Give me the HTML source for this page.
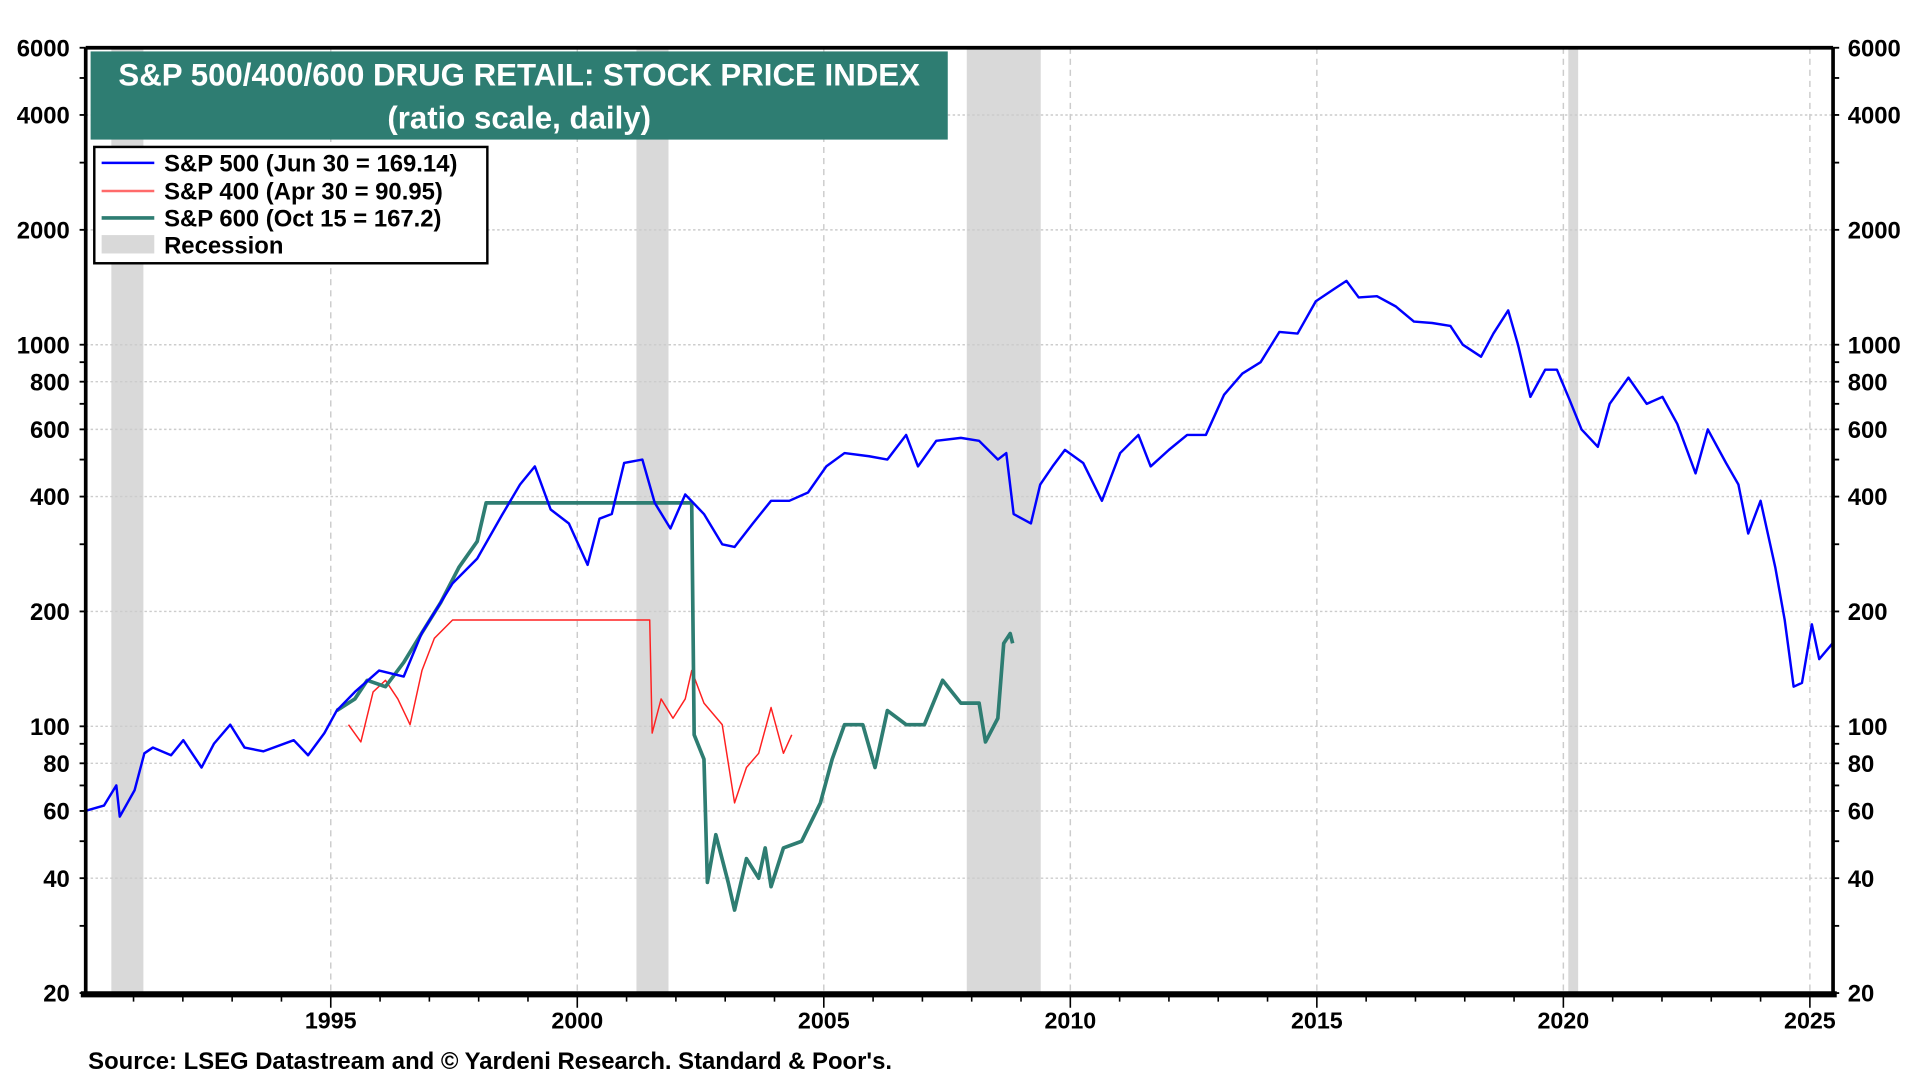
<!DOCTYPE html>
<html><head><meta charset="utf-8"><style>
html,body{margin:0;padding:0;background:#fff;}
svg{display:block;font-family:"Liberation Sans",sans-serif;}
</style></head><body>
<svg id="chart" width="1920" height="1080" viewBox="0 0 1568 882" preserveAspectRatio="none" xmlns="http://www.w3.org/2000/svg"></svg>
<script>
// ---- data ----
const yTicks = [20,40,60,80,100,200,400,600,800,1000,2000,4000,6000];
const xTickYears = [1995,2000,2005,2010,2015,2020,2025];
const recessionStarts = [1990.55,2001.2,2007.9,2020.1];
const recessionEnds = [1991.2,2001.85,2009.4,2020.3];
const sp500Years = [1990.02,1990.40,1990.65,1990.72,1991.02,1991.22,1991.39,1991.76,1992.01,1992.38,1992.63,1992.96,1993.25,1993.63,1994.25,1994.54,1994.87,1995.12,1995.49,1995.98,1996.48,1996.85,1997.47,1997.97,1998.47,1998.84,1999.14,1999.46,1999.83,2000.21,2000.45,2000.70,2000.95,2001.32,2001.57,2001.89,2002.19,2002.57,2002.94,2003.19,2003.56,2003.93,2004.30,2004.68,2005.05,2005.42,2005.92,2006.29,2006.67,2006.91,2007.28,2007.78,2008.15,2008.53,2008.70,2008.85,2009.20,2009.39,2009.64,2009.89,2010.26,2010.64,2011.01,2011.38,2011.63,2012.00,2012.37,2012.75,2013.12,2013.49,2013.86,2014.24,2014.61,2014.98,2015.35,2015.60,2015.85,2016.22,2016.60,2016.97,2017.34,2017.71,2017.96,2018.33,2018.58,2018.88,2019.08,2019.33,2019.63,2019.87,2020.12,2020.37,2020.70,2020.94,2021.32,2021.69,2022.01,2022.31,2022.68,2022.93,2023.30,2023.55,2023.75,2024.00,2024.30,2024.49,2024.67,2024.84,2025.04,2025.19,2025.46];
const sp500Values = [60,62,70,58,68,85,88,84,92,78,90,101,88,86,92,84,96,110,123,140,135,176,237,275,357,430,480,370,340,265,350,360,490,500,385,330,405,360,300,295,340,390,390,410,480,520,510,500,580,480,560,570,560,500,520,360,340,430,480,530,490,390,520,580,480,530,580,580,740,840,900,1080,1070,1300,1400,1470,1330,1340,1260,1150,1140,1120,1000,930,1070,1230,1000,730,860,860,720,600,540,700,820,700,730,620,460,600,490,430,320,390,260,190,127,130,185,150,165];
const sp400Years = [1995.36,1995.61,1995.86,1996.11,1996.36,1996.61,1996.85,1997.10,1997.47,2001.47,2001.52,2001.70,2001.94,2002.19,2002.32,2002.57,2002.94,2003.19,2003.43,2003.68,2003.93,2004.18,2004.35];
const sp400Values = [101,91,123,132,118,101,140,170,190,190,96,118,105,118,140,115,101,63,78,85,112,85,95];
const sp600Years = [1995.12,1995.49,1995.74,1996.11,1996.48,1996.85,1997.23,1997.60,1997.97,1998.15,2002.32,2002.37,2002.57,2002.64,2002.81,2003.06,2003.19,2003.43,2003.68,2003.81,2003.93,2004.18,2004.55,2004.93,2005.17,2005.42,2005.79,2006.04,2006.29,2006.67,2007.04,2007.41,2007.78,2008.15,2008.28,2008.53,2008.65,2008.78,2008.83];
const sp600Values = [110,118,132,127,147,176,211,261,305,385,385,95,82,39,52,39,33,45,40,48,38,48,50,63,82,101,101,78,110,101,101,132,115,115,91,105,165,175,165];

// ---- layout ----
const L=70,R=1497,T=39,B=811;
const X0=1990.03,X1=2025.47,YMIN=20,YMAX=6000;
const NS="http://www.w3.org/2000/svg";
const svg=document.getElementById('chart');
function xs(y){return L+(y-X0)/(X1-X0)*(R-L);}
function ys(v){return B-(Math.log10(v/YMIN))/Math.log10(YMAX/YMIN)*(B-T);}
function mk(tag,at,parent){const e=document.createElementNS(NS,tag);for(const k in at)e.setAttribute(k,at[k]);(parent||svg).appendChild(e);return e;}

recessionStarts.forEach((s,i)=>{
  const r=mk('rect',{x:xs(s),y:T,width:xs(recessionEnds[i])-xs(s),height:B-T,fill:'#d9d9d9'});
  
  
});
[40,60,80,100,200,400,600,800,1000,2000,4000].forEach(v=>{
  const g=mk('line',{x1:L,x2:R,y1:ys(v),y2:ys(v),stroke:'#cccccc','stroke-width':1.2,'stroke-dasharray':'2,2'});
  
  
});
xTickYears.forEach(y=>{
  const g=mk('line',{x1:xs(y),x2:xs(y),y1:T,y2:B,stroke:'#cccccc','stroke-width':1.2,'stroke-dasharray':'5,4'});
  
  
});
function series(yrs,vals,color,w,name){
  const d=yrs.map((y,i)=>(i?'L':'M')+xs(y).toFixed(1)+','+ys(vals[i]).toFixed(1)).join(' ');
  const p=mk('path',{d:d,fill:'none',stroke:color,'stroke-width':w,'stroke-linejoin':'round'});
  
  
}
series(sp400Years,sp400Values,'#ff2020',1.2,'sp400-line');
series(sp600Years,sp600Values,'#2e7d72',3,'sp600-line');
series(sp500Years,sp500Values,'#0000ff',2,'sp500-line');

mk('line',{x1:L,x2:R,y1:T,y2:T,stroke:'#000','stroke-width':3});
mk('line',{x1:L,x2:L,y1:T,y2:B,stroke:'#000','stroke-width':3});
mk('line',{x1:R,x2:R,y1:T,y2:B,stroke:'#000','stroke-width':3});
mk('line',{x1:L-4,x2:R+3,y1:B+1,y2:B+1,stroke:'#000','stroke-width':5});

const minor=[30,50,70,90,300,500,700,900,3000,5000];
minor.concat(yTicks).forEach(v=>{
  mk('line',{x1:L-5,x2:L,y1:ys(v),y2:ys(v),stroke:'#000','stroke-width':1.5});
  mk('line',{x1:R,x2:R+5,y1:ys(v),y2:ys(v),stroke:'#000','stroke-width':1.5});
});
yTicks.forEach(v=>{
  const a=mk('text',{x:L-13,y:ys(v)+7,'text-anchor':'end','font-size':19.5,'font-weight':'bold'});
  a.textContent=v;
  
  
  const b=mk('text',{x:R+12,y:ys(v)+7,'text-anchor':'start','font-size':19.5,'font-weight':'bold'});
  b.textContent=v;
  
  
});
for(let y=1991;y<=2025;y++){
  const big=xTickYears.includes(y);
  mk('line',{x1:xs(y),x2:xs(y),y1:B+3,y2:B+(big?12:7),stroke:'#000','stroke-width':1.3});
}
xTickYears.forEach(y=>{
  const t=mk('text',{x:xs(y),y:B+29,'text-anchor':'middle','font-size':19,'font-weight':'bold'});
  t.textContent=y;
  
  
});
</script>
<svg style="position:absolute;left:0;top:0" width="1920" height="1080" viewBox="0 0 1568 882" preserveAspectRatio="none" xmlns="http://www.w3.org/2000/svg">
  <g>
    <rect x="74" y="42" width="700" height="72" fill="#2e7d72"/>
    <text x="424" y="70" text-anchor="middle" fill="#fff" font-size="25.5" font-weight="bold" font-family="Liberation Sans, sans-serif">S&amp;P 500/400/600 DRUG RETAIL: STOCK PRICE INDEX</text>
    <text x="424" y="105" text-anchor="middle" fill="#fff" font-size="25.5" font-weight="bold" font-family="Liberation Sans, sans-serif">(ratio scale, daily)</text>
  </g>
  <g font-family="Liberation Sans, sans-serif" font-size="19.5" font-weight="bold">
    <rect x="77" y="120" width="321" height="95" fill="#fff" stroke="#000" stroke-width="2"/>
    <line x1="83" x2="126" y1="133" y2="133" stroke="#0000ff" stroke-width="2"/>
    <text x="134" y="140">S&amp;P 500 (Jun 30 = 169.14)</text>
    <line x1="83" x2="126" y1="156" y2="156" stroke="#ff6a6a" stroke-width="2"/>
    <text x="134" y="163">S&amp;P 400 (Apr 30 = 90.95)</text>
    <line x1="83" x2="126" y1="178" y2="178" stroke="#2e7d72" stroke-width="3"/>
    <text x="134" y="185">S&amp;P 600 (Oct 15 = 167.2)</text>
    <rect x="83" y="192" width="43" height="15" fill="#d9d9d9"/>
    <text x="134" y="207">Recession</text>
  </g>
  <text x="72" y="873" font-family="Liberation Sans, sans-serif" font-size="19.5" font-weight="bold">Source: LSEG Datastream and © Yardeni Research. Standard &amp; Poor's.</text>
</svg>
</body></html>
